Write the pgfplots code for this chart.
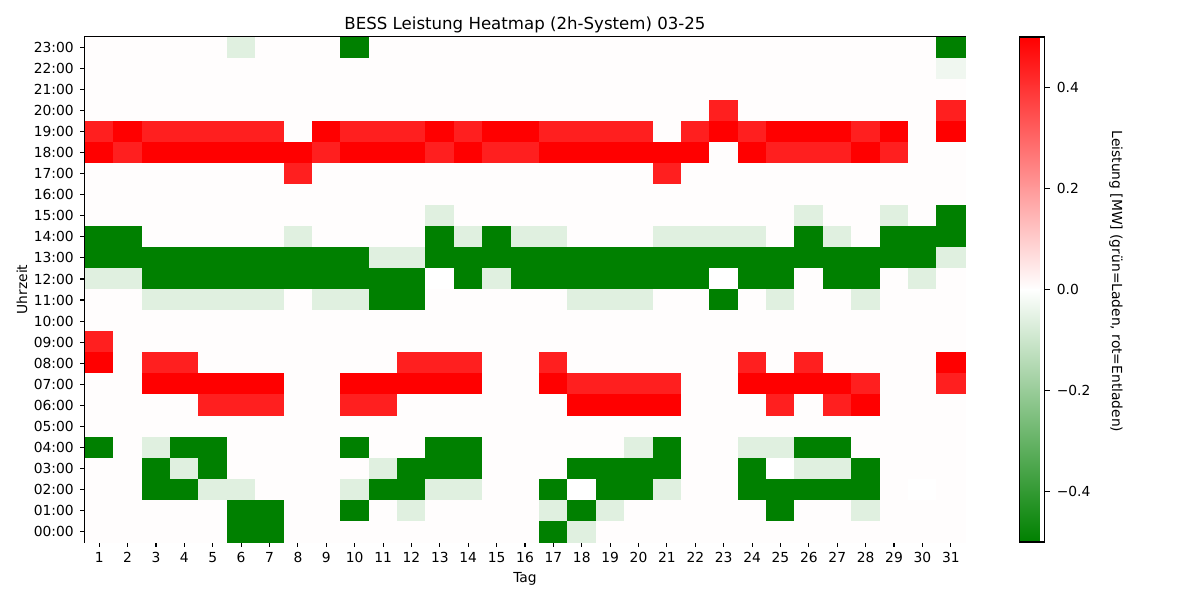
\documentclass[border=0pt]{standalone}
\usepackage{fontspec}
\setmainfont{DejaVu Sans}
\usepackage{pgfplots}
\usepackage{pgfplotstable}
\pgfplotsset{compat=1.18}

\pgfplotsset{colormap={gwr}{rgb255(0cm)=(0,128,0); rgb255(1cm)=(255,255,255); rgb255(2cm)=(255,0,0)}}

% one heatmap cell = 1 x 1 axis unit (x=20.4387bp, y=15.15bp)
\pgfdeclareplotmark{cell}{%
  \pgfpathrectangle{\pgfqpoint{-10.2194bp}{-7.575bp}}{\pgfqpoint{20.4387bp}{15.15bp}}%
  \pgfusepathqfillstroke}

% Leistung [MW], Zeilen = Stunde, Spalten = Tag 1..31
\pgfplotstableread{
h d1 d2 d3 d4 d5 d6 d7 d8 d9 d10 d11 d12 d13 d14 d15 d16 d17 d18 d19 d20 d21 d22 d23 d24 d25 d26 d27 d28 d29 d30 d31
23 0.005 0.005 0.005 0.005 0.005 -0.06 0.005 0.005 0.005 -0.5 0.005 0.005 0.005 0.005 0.005 0.005 0.005 0.005 0.005 0.005 0.005 0.005 0.005 0.005 0.005 0.005 0.005 0.005 0.005 0.005 -0.5
22 0.005 0.005 0.005 0.005 0.005 0.005 0.005 0.005 0.005 0.005 0.005 0.005 0.005 0.005 0.005 0.005 0.005 0.005 0.005 0.005 0.005 0.005 0.005 0.005 0.005 0.005 0.005 0.005 0.005 0.005 -0.03
21 0.005 0.005 0.005 0.005 0.005 0.005 0.005 0.005 0.005 0.005 0.005 0.005 0.005 0.005 0.005 0.005 0.005 0.005 0.005 0.005 0.005 0.005 0.005 0.005 0.005 0.005 0.005 0.005 0.005 0.005 0.005
20 0.005 0.005 0.005 0.005 0.005 0.005 0.005 0.005 0.005 0.005 0.005 0.005 0.005 0.005 0.005 0.005 0.005 0.005 0.005 0.005 0.005 0.005 0.44 0.005 0.005 0.005 0.005 0.005 0.005 0.005 0.44
19 0.44 0.5 0.44 0.44 0.44 0.44 0.44 0.005 0.5 0.44 0.44 0.44 0.5 0.44 0.5 0.5 0.44 0.44 0.44 0.44 0.005 0.44 0.5 0.44 0.5 0.5 0.5 0.44 0.5 0.005 0.5
18 0.5 0.44 0.5 0.5 0.5 0.5 0.5 0.5 0.44 0.5 0.5 0.5 0.44 0.5 0.44 0.44 0.5 0.5 0.5 0.5 0.5 0.5 0.005 0.5 0.44 0.44 0.44 0.5 0.44 0.005 0.005
17 0.005 0.005 0.005 0.005 0.005 0.005 0.005 0.44 0.005 0.005 0.005 0.005 0.005 0.005 0.005 0.005 0.005 0.005 0.005 0.005 0.44 0.005 0.005 0.005 0.005 0.005 0.005 0.005 0.005 0.005 0.005
16 0.005 0.005 0.005 0.005 0.005 0.005 0.005 0.005 0.005 0.005 0.005 0.005 0.005 0.005 0.005 0.005 0.005 0.005 0.005 0.005 0.005 0.005 0.005 0.005 0.005 0.005 0.005 0.005 0.005 0.005 0.005
15 0.005 0.005 0.005 0.005 0.005 0.005 0.005 0.005 0.005 0.005 0.005 0.005 -0.06 0.005 0.005 0.005 0.005 0.005 0.005 0.005 0.005 0.005 0.005 0.005 0.005 -0.06 0.005 0.005 -0.06 0.005 -0.5
14 -0.5 -0.5 0.005 0.005 0.005 0.005 0.005 -0.06 0.005 0.005 0.005 0.005 -0.5 -0.06 -0.5 -0.06 -0.06 0.005 0.005 0.005 -0.06 -0.06 -0.06 -0.06 0.005 -0.5 -0.06 0.005 -0.5 -0.5 -0.5
13 -0.5 -0.5 -0.5 -0.5 -0.5 -0.5 -0.5 -0.5 -0.5 -0.5 -0.06 -0.06 -0.5 -0.5 -0.5 -0.5 -0.5 -0.5 -0.5 -0.5 -0.5 -0.5 -0.5 -0.5 -0.5 -0.5 -0.5 -0.5 -0.5 -0.5 -0.06
12 -0.06 -0.06 -0.5 -0.5 -0.5 -0.5 -0.5 -0.5 -0.5 -0.5 -0.5 -0.5 0 -0.5 -0.06 -0.5 -0.5 -0.5 -0.5 -0.5 -0.5 -0.5 0 -0.5 -0.5 0.005 -0.5 -0.5 0.005 -0.06 0.005
11 0.005 0.005 -0.06 -0.06 -0.06 -0.06 -0.06 0.005 -0.06 -0.06 -0.5 -0.5 0.005 0.005 0.005 0.005 0.005 -0.06 -0.06 -0.06 0.005 0.005 -0.5 0.005 -0.06 0.005 0.005 -0.06 0.005 0.005 0.005
10 0.005 0.005 0.005 0.005 0.005 0.005 0.005 0.005 0.005 0.005 0.005 0.005 0.005 0.005 0.005 0.005 0.005 0.005 0.005 0.005 0.005 0.005 0.005 0.005 0.005 0.005 0.005 0.005 0.005 0.005 0.005
9 0.44 0.005 0.005 0.005 0.005 0.005 0.005 0.005 0.005 0.005 0.005 0.005 0.005 0.005 0.005 0.005 0.005 0.005 0.005 0.005 0.005 0.005 0.005 0.005 0.005 0.005 0.005 0.005 0.005 0.005 0.005
8 0.5 0.005 0.44 0.44 0.005 0.005 0.005 0.005 0.005 0.005 0.005 0.44 0.44 0.44 0.005 0.005 0.44 0.005 0.005 0.005 0.005 0.005 0.005 0.44 0.005 0.44 0.005 0.005 0.005 0.005 0.5
7 0.005 0.005 0.5 0.5 0.5 0.5 0.5 0.005 0.005 0.5 0.5 0.5 0.5 0.5 0.005 0.005 0.5 0.44 0.44 0.44 0.44 0.005 0.005 0.5 0.5 0.5 0.5 0.44 0.005 0.005 0.44
6 0.005 0.005 0.005 0.005 0.44 0.44 0.44 0.005 0.005 0.44 0.44 0.005 0.005 0.005 0.005 0.005 0.005 0.5 0.5 0.5 0.5 0.005 0.005 0.005 0.44 0.005 0.44 0.5 0.005 0.005 0.005
5 0.005 0.005 0.005 0.005 0.005 0.005 0.005 0.005 0.005 0.005 0.005 0.005 0.005 0.005 0.005 0.005 0.005 0.005 0.005 0.005 0.005 0.005 0.005 0.005 0.005 0.005 0.005 0.005 0.005 0.005 0.005
4 -0.5 0.005 -0.06 -0.5 -0.5 0.005 0.005 0.005 0.005 -0.5 0.005 0.005 -0.5 -0.5 0.005 0.005 0.005 0.005 0.005 -0.06 -0.5 0.005 0.005 -0.06 -0.06 -0.5 -0.5 0.005 0.005 0.005 0.005
3 0.005 0.005 -0.5 -0.06 -0.5 0.005 0.005 0.005 0.005 0.005 -0.06 -0.5 -0.5 -0.5 0.005 0.005 0.005 -0.5 -0.5 -0.5 -0.5 0.005 0.005 -0.5 0 -0.06 -0.06 -0.5 0.005 0.005 0.005
2 0.005 0.005 -0.5 -0.5 -0.06 -0.06 0.005 0.005 0.005 -0.06 -0.5 -0.5 -0.06 -0.06 0.005 0.005 -0.5 0 -0.5 -0.5 -0.06 0.005 0.005 -0.5 -0.5 -0.5 -0.5 -0.5 0.005 0 0.005
1 0.005 0.005 0.005 0.005 0.005 -0.5 -0.5 0.005 0.005 -0.5 0.005 -0.06 0.005 0.005 0.005 0.005 -0.06 -0.5 -0.06 0.005 0.005 0.005 0.005 0.005 -0.5 0.005 0.005 -0.06 0.005 0.005 0.005
0 0.005 0.005 0.005 0.005 0.005 -0.5 -0.5 0.005 0.005 0.005 0.005 0.005 0.005 0.005 0.005 0.005 -0.5 -0.06 0.005 0.005 0.005 0.005 0.005 0.005 0.005 0.005 0.005 0.005 0.005 0.005 0.005
}\heat

\begin{document}
\begin{tikzpicture}
\useasboundingbox (-61.2bp,-41.76bp) rectangle (802.8bp,390.24bp);
\begin{axis}[
    x=20.4387bp, y=15.15bp,
    xmin=0.5, xmax=31.5, ymin=-0.5, ymax=23.5,
    axis on top,
    /pgf/number format/assume math mode=true,
    xtick={1,...,31},
    ytick={0,...,23},
    yticklabels={00:00,01:00,02:00,03:00,04:00,05:00,06:00,07:00,08:00,09:00,10:00,11:00,
                 12:00,13:00,14:00,15:00,16:00,17:00,18:00,19:00,20:00,21:00,22:00,23:00},
    tick pos=left, tick align=outside,
    major tick length=3.5bp,
    every tick/.style={black, line width=0.8bp},
    axis line style={line width=0.8bp},
    xticklabel style={anchor=base, yshift=-11.6bp},
    yticklabel style={anchor=east, inner sep=0pt, xshift=-4.4bp},
    title={BESS Leistung Heatmap (2h-System) 03-25},
    every axis title shift=0pt,
    title style={at={(0.5,1)}, anchor=base, yshift=5.3bp, font=\fontsize{12}{14}\selectfont},
    xlabel={Tag},
    every axis x label/.style={at={(axis description cs:0.5,0)}, anchor=base, yshift=-29.3bp},
    ylabel={Uhrzeit},
    every axis y label/.style={at={(axis description cs:0,0.5)}, xshift=-45.4bp, rotate=90, anchor=center},
    colormap name=gwr,
    point meta min=-0.5, point meta max=0.5,
    colorbar,
    colorbar style={
        at={(parent axis.north east)}, anchor=north west, xshift=31bp,
        width=18bp,
        ytick={-0.4,-0.2,0,0.2,0.4},
        yticklabels={−0.4,−0.2,0.0,0.2,0.4},
        ytick pos=right, tick align=outside,
        major tick length=3.5bp,
        every tick/.style={black, line width=0.8bp},
        axis line style={line width=0.8bp},
        yticklabel style={anchor=west, inner sep=0pt, xshift=4.9bp},
        ylabel={Leistung [MW] (grün=Laden, rot=Entladen)},
        every axis y label/.style={at={(axis description cs:3.84,0.516)}, anchor=center, rotate=-90},
    },
]
\pgfplotsinvokeforeach{1,...,31}{
    \addplot[scatter, only marks, mark=cell, point meta=explicit,
        scatter/use mapped color={draw=mapped color, fill=mapped color},
        mark options={line width=0.3bp}]
        table[x expr=#1, y=h, meta=d#1]{\heat};
}
\end{axis}
\end{tikzpicture}
\end{document}
